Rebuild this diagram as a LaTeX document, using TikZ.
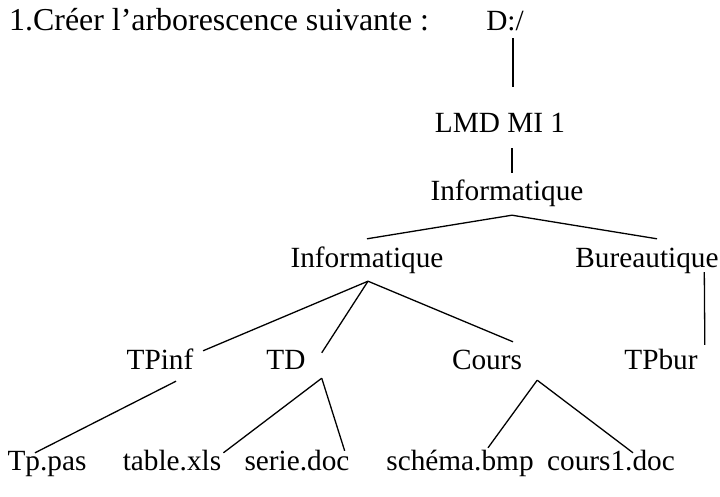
\documentclass[tikz,border=0pt]{standalone}
\usepackage{fontspec}
\setmainfont{Liberation Serif}
\usetikzlibrary{calc}

\tikzset{
  dossier/.style={inner sep=0pt, text height=20pt, text depth=6pt, anchor=base,
    font=\fontsize{29.3}{35}\selectfont},
  lien/.style={line width=1.3pt}
}

\begin{document}
\begin{tikzpicture}[x=1pt, y=-1pt]
  \useasboundingbox (0,0) rectangle (720,497);
  \node[dossier, anchor=base west, font=\fontsize{31.9}{38}\selectfont] (titre) at (9,31) {1.Créer l’arborescence suivante :};
  \node[dossier] (D) at (505,31) {D:/};
  \node[dossier] (LMD) at (500,133) {LMD MI 1};
  \node[dossier] (Info) at (507,201) {Informatique};
  \node[dossier] (Info2) at (367,267) {Informatique};
  \node[dossier] (Bur) at (647,267) {Bureautique};
  \node[dossier] (TPinf) at (160,369) {TPinf};
  \node[dossier] (TD) at (286,369) {TD};
  \node[dossier] (Cours) at (487,369) {Cours};
  \node[dossier] (TPbur) at (661,369) {TPbur};
  \node[dossier] (tppas) at (47,470) {Tp.pas};
  \node[dossier] (table) at (172,470) {table.xls};
  \node[dossier] (serie) at (297,470) {serie.doc};
  \node[dossier] (schema) at (460,470) {schéma.bmp};
  \node[dossier] (cours1) at (611,470) {cours1.doc};

  \draw[lien] ($(D.south)+(8,1)$) -- ($(LMD.north)+(13,-26)$);
  \draw[lien] ($(LMD.south)+(12,9)$) -- ($(Info.north)+(5,-8)$);
  \draw[lien] ($(Info.south)+(5,8)$) -- ($(Info2.north)+(0,-8)$);
  \draw[lien] ($(Info.south)+(5,8)$) -- ($(Bur.north)+(10,-8)$);
  \draw[lien] ($(Info2.south)+(1,8)$) -- ($(TPinf.north east)+(9.5,2)$);
  \draw[lien] ($(Info2.south)+(1,8)$) -- ($(TD.north east)+(16,4)$);
  \draw[lien] ($(Info2.south)+(1,8)$) -- ($(Cours.north)+(26,-7)$);
  \draw[lien] ($(Bur.south east)+(-14.5,-1)$) -- ($(TPbur.north east)+(7,-4)$);
  \draw[lien] ($(TPinf.south)+(16,6)$) -- ($(tppas.north)+(-12,3)$);
  \draw[lien] ($(TD.south east)+(16,3)$) -- ($(table.north east)+(2,3)$);
  \draw[lien] ($(TD.south east)+(16,3)$) -- ($(serie.north east)+(-5,1)$);
  \draw[lien] ($(Cours.south east)+(15,5)$) -- ($(schema.north)+(28,-2)$);
  \draw[lien] ($(Cours.south east)+(15,5)$) -- ($(cours1.north)+(22,3)$);
\end{tikzpicture}
\end{document}
